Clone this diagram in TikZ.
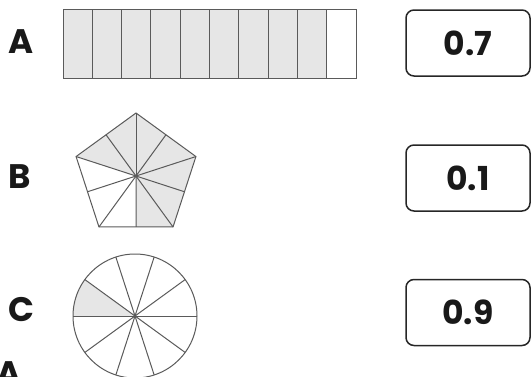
\documentclass[tikz,border=0pt]{standalone}
\usepackage{fontspec}
\setmainfont{Poppins}
\usetikzlibrary{calc}
\definecolor{lightfill}{HTML}{E6E6E6}
\definecolor{edgegray}{HTML}{5A5A5A}
\tikzset{
  lbl/.style={font=\fontsize{34}{36}\selectfont\bfseries, text=black!90, inner sep=0pt},
  ansbox/.style={draw=black!85, line width=1.5pt, rounded corners=8pt, minimum width=124pt, minimum height=66pt},
  anstext/.style={font=\fontsize{33}{36}\selectfont\bfseries, text=black!90, inner sep=0pt},
  seg/.style={draw=edgegray, line width=1pt},
}
\begin{document}
\begin{tikzpicture}[x=1pt,y=-1pt]
\clip (0,0) rectangle (531,376);
\useasboundingbox (0,0) rectangle (531,376);
% labels
\node[lbl] (la) at (21.5,42) {A};
\node[lbl] (lb) at (19.5,176.5) {B};
\node[lbl] (lc) at (21,309.5) {C};
\node[lbl, anchor=north] (lx) at (9,361) {A};
% bar A
\foreach \i in {0,...,8} {
  \fill[lightfill] (63+29.3*\i,9.5) rectangle (63+29.3*\i+29.3,78);
}
\foreach \i in {0,...,9} {
  \draw[seg] (63+29.3*\i,9.5) rectangle (63+29.3*\i+29.3,78);
}
% pentagon B
\coordinate (pc) at (136,176);
\foreach \k in {0,...,4} {
  \coordinate (v\k) at ($(pc)+({-90-72*\k}:63)$);
}
\foreach \k/\n in {0/1,1/2,2/3,3/4,4/0} {
  \coordinate (m\k) at ($(v\k)!0.5!(v\n)$);
}
\fill[lightfill] (pc) -- (m2) -- (v3) -- (m3) -- (v4) -- (m4) -- (v0) -- (m0) -- (v1) -- cycle;
\draw[seg] (v0) -- (v1) -- (v2) -- (v3) -- (v4) -- cycle;
\foreach \k in {0,...,4} {
  \draw[seg] (pc) -- (v\k);
  \draw[seg] (pc) -- (m\k);
}
\fill[edgegray] (pc) circle (1.5);
% circle C
\coordinate (cc) at (135,316);
\fill[lightfill] (cc) -- ++(180:62) arc[start angle=180, end angle=216, radius=62] -- cycle;
\draw[seg] (cc) circle (62);
\foreach \a in {0,36,...,324} {
  \draw[seg] (cc) -- ++(\a:62);
}
\fill[edgegray] (cc) circle (1.5);
% answer boxes
\node[ansbox] (b1) at (468,43) {};
\node[ansbox] (b2) at (468,178) {};
\node[ansbox] (b3) at (468,312.5) {};
\node[anstext] (t1) at (b1) {0.7};
\node[anstext] (t2) at (b2) {0.1};
\node[anstext] (t3) at (b3) {0.9};
\end{tikzpicture}
\end{document}
